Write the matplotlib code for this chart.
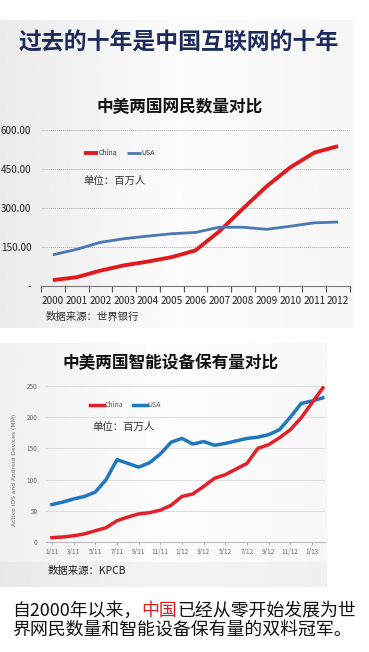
import matplotlib
matplotlib.use("Agg")
import matplotlib.pyplot as plt
import numpy as np

plt.rcParams["font.family"] = ["Noto Sans CJK SC", "DejaVu Sans"]

# ── 数据 ─────────────────────────────────────────────────────────────
YEARS = [str(y) for y in range(2000, 2013)]
NET_CHINA = [22.5, 33.7, 59.1, 79.5, 94.0, 111.0, 137.0, 210.0, 298.0, 384.0, 457.0, 513.0, 538.0]
NET_USA = [120.0, 141.0, 168.0, 182.0, 192.0, 201.0, 206.0, 226.0, 226.0, 218.0, 230.0, 243.0, 246.0]
NET_YTICKS = [0, 150, 300, 450, 600]
NET_YLABELS = ["-", "150.00", "300.00", "450.00", "600.00"]

MONTH_LABELS = ["1/11", "3/11", "5/11", "7/11", "9/11", "11/11", "1/12",
                "3/12", "5/12", "7/12", "9/12", "11/12", "1/13"]
DEV_CHINA = [7, 8, 10, 13, 18, 23, 34, 40, 45, 47, 51, 59, 73, 77, 89,
             102, 108, 117, 126, 150, 156, 167, 180, 199, 223, 247]
DEV_USA = [60, 64, 69, 73, 80, 100, 132, 126, 120, 127, 141, 160, 166, 157,
           161, 155, 158, 162, 166, 168, 172, 180, 200, 222, 226, 231]
DEV_YTICKS = [0, 50, 100, 150, 200, 250]

W, H = 369, 652


def box(left, top, right, bottom):
    """像素框 -> figure 坐标"""
    return [left / W, 1 - bottom / H, (right - left) / W, (bottom - top) / H]


def panel(fig, left, top, right, bottom, cols):
    ax = fig.add_axes(box(left, top, right, bottom), zorder=-10)
    grad = np.interp(np.linspace(0, 1, 200), [0, 0.5, 1], cols)
    ax.imshow(grad[None, :], aspect="auto", cmap="gray", vmin=0, vmax=1,
              extent=[0, 1, 0, 1])
    ax.set_axis_off()
    return ax


fig = plt.figure(figsize=(W / 100, H / 100), dpi=100)
fig.patch.set_facecolor("white")

panel(fig, 0, 20, 353, 328, [0.92, 0.985, 0.965])
panel(fig, 0, 343, 327, 562, [0.94, 0.99, 0.97])
panel(fig, 0, 562, 327, 587, [0.91, 0.955, 0.94])

fig.text(179 / W, 1 - 43 / H, "过去的十年是中国互联网的十年", ha="center", va="center",
         fontsize=16.5, fontweight="bold", color="#1d2b5c")
fig.text(180 / W, 1 - 107 / H, "中美两国网民数量对比", ha="center", va="center",
         fontsize=12, fontweight="bold", color="#111111")

# ── 图1：网民数量 ───────────────────────────────────────────────────
ax1 = fig.add_axes(box(41, 130, 350, 286))
ax1.set_facecolor("none")
x = np.arange(len(YEARS))
ax1.plot(x, NET_CHINA, color="#e01b1f", lw=2.8, label="China", solid_capstyle="butt")
ax1.plot(x, NET_USA, color="#4a78b3", lw=2.0, label="USA", solid_capstyle="butt")
ax1.set_xlim(-0.5, len(YEARS) - 0.5)
ax1.set_ylim(0, 600)
ax1.set_yticks(NET_YTICKS)
ax1.set_yticklabels(NET_YLABELS)
ax1.set_xticks(x)
ax1.set_xticklabels(YEARS)
ax1.set_xticks(np.arange(-0.5, len(YEARS)), minor=True)
ax1.tick_params(axis="x", which="major", length=0, pad=7, labelsize=7.2, labelcolor="#222222")
ax1.tick_params(axis="x", which="minor", length=4, color="#555555", width=0.8)
ax1.tick_params(axis="y", length=0, pad=7, labelsize=7.2, labelcolor="#222222")
ax1.grid(axis="y", color="#aaaaaa", lw=0.7, ls=(0, (1, 1)))
for s in ("top", "right", "left"):
    ax1.spines[s].set_visible(False)
ax1.spines["bottom"].set_color("#777777")
ax1.spines["bottom"].set_linewidth(0.8)
ax1.set_axisbelow(True)
ax1.legend(loc="center left", bbox_to_anchor=((78 - 41) / 309, (286 - 153) / 156),
           ncol=2, frameon=False, fontsize=5, handlelength=2.0, handletextpad=0.1,
           columnspacing=1.4, labelcolor="#333333")
ax1.text((83 - 41) / 309, (286 - 181) / 156, "单位：百万人", transform=ax1.transAxes,
         ha="left", va="center", fontsize=7.5, color="#333333")
fig.text(46 / W, 1 - 317 / H, "数据来源：世界银行", ha="left", va="center",
         fontsize=7.5, color="#333333")

# ── 图2：智能设备 ───────────────────────────────────────────────────
fig.text(171 / W, 1 - 363 / H, "中美两国智能设备保有量对比", ha="center", va="center",
         fontsize=12, fontweight="bold", color="#111111")
ax2 = fig.add_axes(box(46, 386, 325, 542))
ax2.set_facecolor("none")
m = np.arange(len(DEV_CHINA))
ax2.plot(m, DEV_USA, color="#1f77c0", lw=2.5, label="USA", solid_joinstyle="round",
         clip_on=False)
ax2.plot(m, DEV_CHINA, color="#e2202a", lw=2.5, label="China", solid_joinstyle="round",
         clip_on=False)
ax2.set_xlim(-0.55, 25.2)
ax2.set_ylim(0, 250)
ax2.set_yticks(DEV_YTICKS)
ax2.set_xticks(np.arange(0, 25, 2))
ax2.set_xticklabels(MONTH_LABELS)
ax2.tick_params(axis="x", length=2, color="#bbbbbb", pad=2, labelsize=4.6,
                labelcolor="#666666")
ax2.tick_params(axis="y", length=0, pad=6, labelsize=4.6, labelcolor="#666666")
ax2.grid(axis="y", color="#dddddd", lw=0.7)
for s in ("top", "right", "left"):
    ax2.spines[s].set_visible(False)
ax2.spines["bottom"].set_color("#bbbbbb")
ax2.set_axisbelow(True)
h, l = ax2.get_legend_handles_labels()
ax2.legend(h[::-1], l[::-1], loc="center left",
           bbox_to_anchor=((84 - 46) / 279, (542 - 405) / 156),
           ncol=2, frameon=False, fontsize=5, handlelength=2.0, handletextpad=0.1,
           columnspacing=1.4, labelcolor="#555555")
ax2.text((92 - 46) / 279, (542 - 427) / 156, "单位：百万人", transform=ax2.transAxes,
         ha="left", va="center", fontsize=7.5, color="#333333")
fig.text(15 / W, 1 - 470 / H, "Active iOS and Android Devices (MM)", rotation=90,
         ha="center", va="center", fontsize=4.3, color="#666666", family="DejaVu Sans")
fig.text(48 / W, 1 - 571 / H, "数据来源：KPCB", ha="left", va="center",
         fontsize=7.5, color="#222222")

# ── 底部说明 ─────────────────────────────────────────────────────────
renderer = fig.canvas.get_renderer()
parts = [("自2000年以来，", "#111111"), ("中国", "#e0191c"),
         ("已经从零开始发展为世", "#111111")]
xpos = 12
for txt, col in parts:
    t = fig.text(xpos / W, 1 - 611 / H, txt, ha="left", va="center",
                 fontsize=12.9, color=col)
    xpos += t.get_window_extent(renderer).width
fig.text(12 / W, 1 - 630 / H, "界网民数量和智能设备保有量的双料冠军。", ha="left",
         va="center", fontsize=12.9, color="#111111")

fig.savefig("out.png", dpi=100)
